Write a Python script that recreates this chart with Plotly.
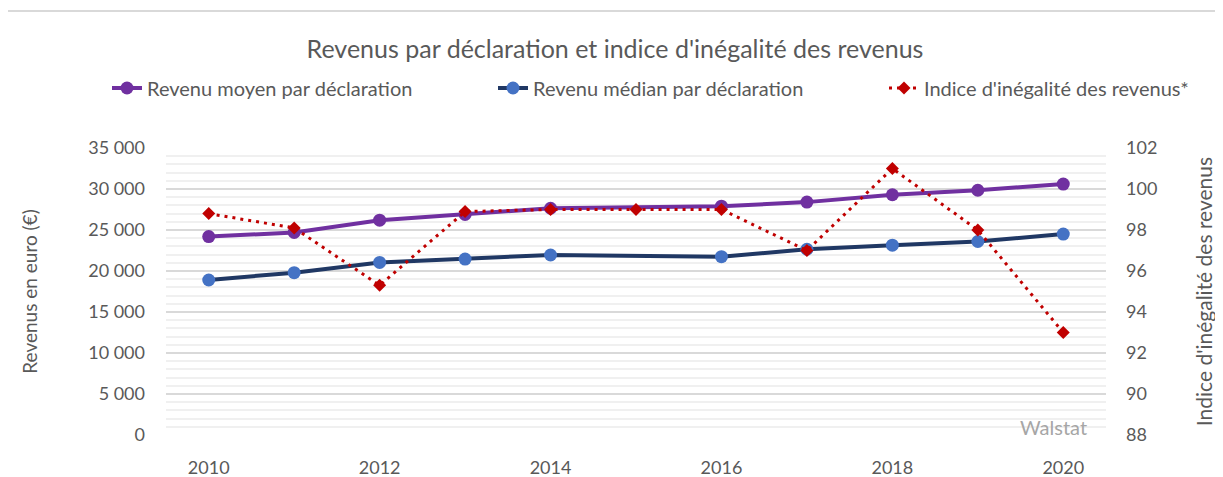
import plotly.graph_objects as go

years = [2010, 2011, 2012, 2013, 2014, 2015, 2016, 2017, 2018, 2019, 2020]
revenu_moyen = [24200, 24700, 26200, 26900, 27650, None, 27900, 28400, 29300, 29850, 30600]
revenu_median = [18900, 19800, 21050, 21450, 21950, None, 21750, 22650, 23150, 23600, 24500]
indice_inegalite = [98.8, 98.1, 95.3, 98.9, 99.0, 99.0, 99.0, 97.0, 101.0, 98.0, 93.0]

left_ticks = [0, 5000, 10000, 15000, 20000, 25000, 30000, 35000]
left_ticklabels = ["0", "5 000", "10 000", "15 000", "20 000", "25 000", "30 000", "35 000"]
right_ticks = [88, 90, 92, 94, 96, 98, 100, 102]
x_ticks = [2010, 2012, 2014, 2016, 2018, 2020]

FONT = "Lato"
GRAY = "#595959"

# the page body has an 8px margin, so the figure is drawn 8px in from the corner
OFF = 8
W, H = 1223 - OFF, 477 - OFF
PL, PR, PT, PB = 166, 1106, 148, 435  # plot area in window pixels
L, R, T, B = PL - OFF, W - (PR - OFF), PT - OFF, H - (PB - OFF)
pw = W - L - R
ph = H - T - B


def px_x(px):
    return (px - OFF - L) / pw


def px_y(py):
    return (H - B - (py - OFF)) / ph


fig = go.Figure()
fig.add_trace(go.Scatter(
    x=years, y=revenu_moyen, name="Revenu moyen par déclaration",
    mode="lines+markers", connectgaps=True, legend="legend",
    line=dict(color="#7030A0", width=4),
    marker=dict(color="#7030A0", size=13),
))
fig.add_trace(go.Scatter(
    x=years, y=revenu_median, name="Revenu médian par déclaration",
    mode="lines+markers", connectgaps=True, legend="legend2",
    line=dict(color="#203864", width=4),
    marker=dict(color="#4472C4", size=13),
))
fig.add_trace(go.Scatter(
    x=years, y=indice_inegalite, name="Indice d'inégalité des revenus*",
    mode="lines+markers", yaxis="y2", legend="legend3",
    line=dict(color="#C00000", width=3, dash="3px,5px"),
    marker=dict(color="#C00000", size=10, symbol="diamond"),
))

leg_common = dict(yanchor="middle", y=px_y(88), xanchor="left",
                  font=dict(family=FONT, size=20, color=GRAY),
                  bgcolor="rgba(0,0,0,0)", orientation="h")

fig.update_layout(
    width=W, height=H,
    margin=dict(l=L, r=R, t=T, b=B, autoexpand=False),
    paper_bgcolor="white", plot_bgcolor="white",
    font=dict(family=FONT, color=GRAY, size=18),
    title=dict(text="Revenus par déclaration et indice d'inégalité des revenus",
               x=(615 - OFF) / W, xanchor="center", y=1 - (49 - OFF) / H, yanchor="middle",
               font=dict(family=FONT, size=25, color=GRAY)),
    legend=dict(x=px_x(148 - 41), **leg_common),
    legend2=dict(x=px_x(534 - 41), **leg_common),
    legend3=dict(x=px_x(925 - 41), **leg_common),
    showlegend=True,
    xaxis=dict(range=[2009.5, 2020.5], tickvals=x_ticks, showgrid=False,
               zeroline=False, showline=False, ticks="", automargin=False,
               tickfont=dict(family=FONT, size=18, color=GRAY),
               ticklabelstandoff=20),
    yaxis=dict(range=[0, 35000], tickvals=left_ticks, ticktext=left_ticklabels,
               showgrid=True, gridcolor="#d9d9d9", gridwidth=2,
               zeroline=False, showline=False, ticks="", automargin=False,
               ticklabelstandoff=20,
               tickfont=dict(family=FONT, size=18, color=GRAY),
               minor=dict(dtick=1000, showgrid=True, gridcolor="#f0f0f0", gridwidth=2),
               title=dict(text="Revenus en euro (€)", standoff=45,
                          font=dict(family=FONT, size=19, color=GRAY))),
    yaxis2=dict(range=[88, 102], tickvals=right_ticks, overlaying="y", side="right",
                showgrid=False, zeroline=False, showline=False, ticks="", automargin=False,
                ticklabelstandoff=19,
                tickfont=dict(family=FONT, size=18, color=GRAY),
                title=dict(text="Indice d'inégalité des revenus", standoff=40,
                           font=dict(family=FONT, size=21, color=GRAY))),
    shapes=[dict(type="line", xref="paper", yref="paper",
                 x0=px_x(0), x1=px_x(1223), y0=px_y(11), y1=px_y(11),
                 line=dict(color="#d9d9d9", width=2))],
    annotations=[dict(text="Walstat", xref="paper", yref="paper",
                      x=px_x(1089), y=px_y(427), xanchor="right", yanchor="middle",
                      showarrow=False, font=dict(family=FONT, size=20, color="#a6a6a6"))],
)

fig.write_html("out.html")
